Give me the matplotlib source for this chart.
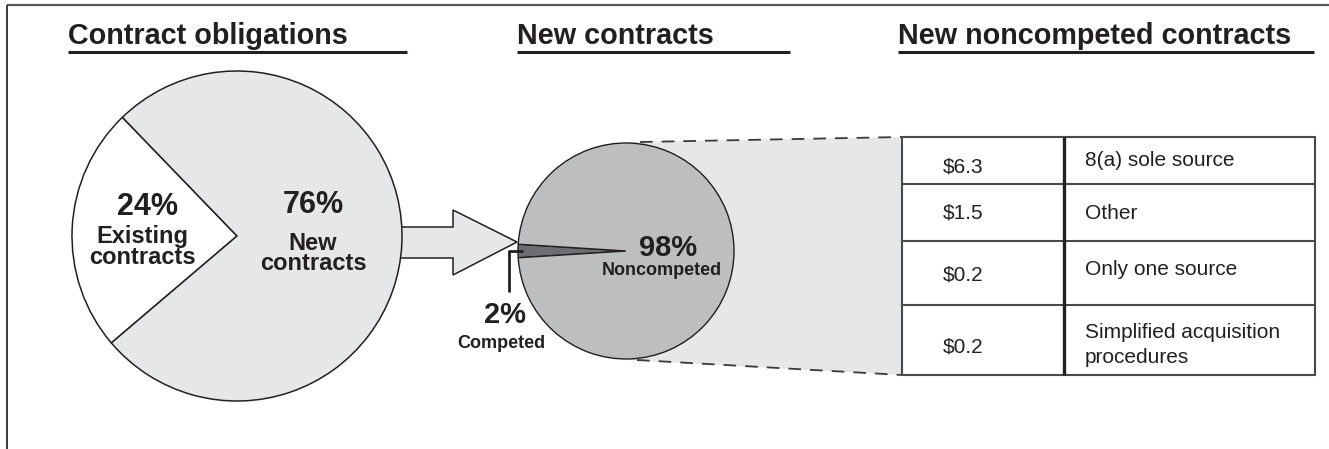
"""
Contract obligations -> new contracts -> new noncompeted contracts.
Two pies joined by an arrow, and a zoom-out onto a small table.
"""
import matplotlib.pyplot as plt
from matplotlib.patches import Polygon, Rectangle

W, H = 1329, 449

# data
obligation_labels = ['Existing\ncontracts', 'New\ncontracts']
obligation_shares = [24, 76]
new_labels = ['Competed', 'Noncompeted']
new_shares = [2, 98]
noncompeted_amounts = ['$6.3', '$1.5', '$0.2', '$0.2']
noncompeted_types = ['8(a) sole source', 'Other', 'Only one source',
                     'Simplified acquisition\nprocedures']
titles = ['Contract obligations', 'New contracts', 'New noncompeted contracts']

TXT = '#231f20'
LIGHT = '#e6e7e8'
MID = '#bcbec0'
DARK = '#6d6e71'

plt.rcParams['font.family'] = ['Liberation Sans', 'DejaVu Sans']


def Y(y):
    # layout is measured in pixels from the top
    return H - y


def lines(x, y0, text, step, **kw):
    for i, ln in enumerate(text.split('\n')):
        ax.text(x, Y(y0 + i * step), ln, ha='center', va='baseline',
                color=TXT, **kw)


fig = plt.figure(figsize=(W / 100, H / 100), dpi=100)
ax = fig.add_axes([0, 0, 1, 1])

# frame lines
ax.plot([7, W], [Y(5), Y(5)], color='#5a5a5a', lw=1.6, solid_capstyle='butt')
ax.plot([7, 7], [Y(5), 0], color='#3a3a3a', lw=1.4, solid_capstyle='butt')

# titles with underlines
title_x = [68, 517, 898]
rule_end = [407, 790, 1314]
for t, x, xe in zip(titles, title_x, rule_end):
    ax.text(x, Y(44), t, ha='left', va='baseline', fontsize=20.7,
            fontweight='bold', color=TXT)
    ax.plot([x, xe], [Y(52), Y(52)], color=TXT, lw=2.2, solid_capstyle='butt')

# left pie
c1, r1 = (237, Y(236)), 165
ax.pie(obligation_shares, colors=['white', LIGHT], startangle=134,
       counterclock=True, center=c1, radius=r1, frame=True,
       wedgeprops=dict(edgecolor=TXT, linewidth=1.1))

pct_pos1 = [(147, 215), (313, 213)]
name_pos1 = [(142, 243), (313, 250)]
for s, lab, (px, py), (nx, ny) in zip(obligation_shares, obligation_labels,
                                      pct_pos1, name_pos1):
    ax.text(px, Y(py), f'{s}%', ha='center', va='baseline', fontsize=22,
            fontweight='bold', color=TXT)
    lines(nx, ny, lab, 20.5, fontsize=17, fontweight='bold')

# arrow between pies
arrow = Polygon([(395, Y(227)), (453, Y(227)), (453, Y(210)), (517, Y(242)),
                 (453, Y(275)), (453, Y(258)), (395, Y(258))],
                closed=True, facecolor=LIGHT, edgecolor=TXT, lw=1.1, zorder=0.5)
ax.add_patch(arrow)

# zoom-out band to table
band = Polygon([(626, Y(142)), (902, Y(137)), (902, Y(375)), (626, Y(360))],
               closed=True, facecolor=LIGHT, edgecolor='none', zorder=0.3)
ax.add_patch(band)
for xa, ya, xb, yb in [(640, 142, 902, 137), (637, 360, 902, 375)]:
    ax.plot([xa, xb], [Y(ya), Y(yb)], color='#3a3a3a', lw=1.3,
            dashes=(7, 5), zorder=0.6)

# right pie
c2, r2 = (626, Y(251)), 108
ax.pie(new_shares, colors=[DARK, MID], startangle=180 - 1.8 * new_shares[0],
       counterclock=True, center=c2, radius=r2, frame=True,
       wedgeprops=dict(edgecolor=TXT, linewidth=1.0))

# leader for competed slice
ax.plot([509, 509, 523], [Y(292), Y(251), Y(251)], color=TXT, lw=2,
        solid_capstyle='butt', zorder=3)

pct_pos2 = [(505, 323), (668, 256)]
name_pos2 = [(501, 348), (662, 275)]
for s, lab, (px, py), (nx, ny) in zip(new_shares, new_labels, pct_pos2, name_pos2):
    ax.text(px, Y(py), f'{s}%', ha='center', va='baseline', fontsize=21,
            fontweight='bold', color=TXT, zorder=4)
    ax.text(nx, Y(ny), lab, ha='center', va='baseline', fontsize=13,
            fontweight='bold', color=TXT, zorder=4)

# table
tx0, tx1, txm = 902, 1315, 1064
row_edges = [137, 183.5, 240.5, 305, 375]
ax.add_patch(Rectangle((tx0, Y(row_edges[-1])), tx1 - tx0,
                       row_edges[-1] - row_edges[0], facecolor='white',
                       edgecolor='#4a4a4a', lw=1.5, zorder=2))
for ye in row_edges[1:-1]:
    ax.plot([tx0, tx1], [Y(ye), Y(ye)], color='#4a4a4a', lw=1.5, zorder=2.1)
ax.plot([txm, txm], [Y(row_edges[0]), Y(row_edges[-1])], color=TXT, lw=2.4,
        solid_capstyle='butt', zorder=2.2)

amount_base = [172, 219, 280, 353]
type_base = [166, 219, 275, 338]
for amt, typ, ya, yt in zip(noncompeted_amounts, noncompeted_types,
                            amount_base, type_base):
    ax.text(943, Y(ya), amt, ha='left', va='baseline', fontsize=15,
            color=TXT, zorder=3)
    for i, ln in enumerate(typ.split('\n')):
        ax.text(1085, Y(yt + i * 25), ln, ha='left', va='baseline',
                fontsize=15, color=TXT, zorder=3)

ax.set_xlim(0, W)
ax.set_ylim(0, H)
ax.set_aspect('equal')
ax.axis('off')

fig.savefig('out.png', dpi=100)
